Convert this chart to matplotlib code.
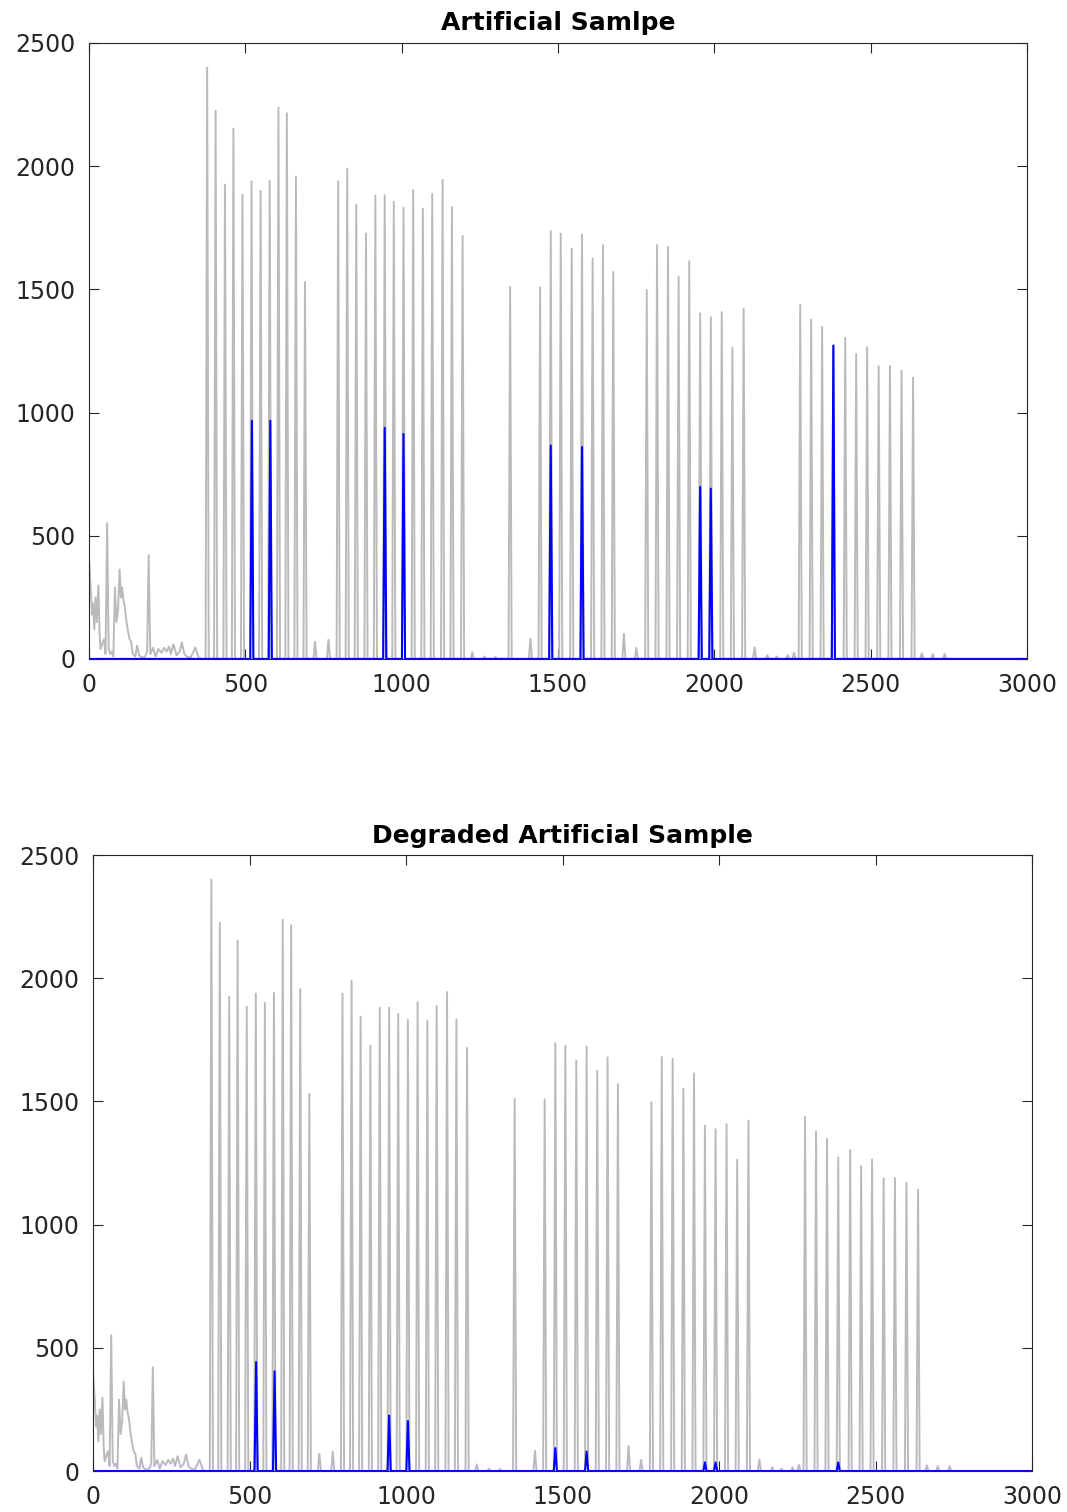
import numpy as np
import matplotlib
matplotlib.use('Agg')
import matplotlib.pyplot as plt

# gray trace: noisy start (polyline read point by point)
noise_x = [0, 5, 10, 13, 17, 21, 25, 30, 34, 37, 42, 48, 53, 58, 63, 68, 73, 78, 83, 88,
           93, 98, 102, 106, 110, 115, 120, 125, 130, 135, 140, 148, 154, 160, 170, 180,
           186, 191, 196, 205, 213, 222, 232, 240, 248, 256, 262, 270, 280, 290, 297,
           305, 312, 325, 340, 351, 358]
noise_y = [404, 300, 180, 225, 120, 250, 150, 298, 100, 40, 60, 80, 20, 551, 40, 20, 30,
           10, 290, 150, 200, 363, 250, 290, 240, 209, 150, 111, 80, 70, 20, 10, 54, 15,
           5, 10, 30, 421, 20, 45, 10, 40, 25, 45, 30, 50, 20, 60, 15, 30, 67, 20, 10, 5,
           46, 5, 0]

# gray trace: peaks (position, height)
peak_x = [378, 405, 435, 462, 491, 520, 549, 578, 606, 633, 662, 691, 723, 766,
          797, 826, 855, 886, 916, 946, 975, 1006, 1037, 1068, 1098, 1131, 1161, 1195,
          1226, 1265, 1300, 1347, 1412, 1443, 1477, 1509, 1544, 1577, 1611, 1644, 1677,
          1711, 1751, 1784, 1817, 1852, 1886, 1920, 1955, 1989, 2024, 2058, 2094, 2129,
          2170, 2200, 2235, 2255, 2275, 2310, 2345, 2381, 2419, 2454, 2489, 2526, 2562,
          2599, 2636, 2664, 2699, 2737]
peak_h = [2400, 2225, 1925, 2152, 1885, 1938, 1900, 1940, 2238, 2215, 1956, 1530, 70, 78,
          1938, 1990, 1844, 1727, 1880, 1881, 1855, 1831, 1903, 1827, 1887, 1944, 1833, 1717,
          27, 10, 8, 1510, 82, 1508, 1736, 1726, 1665, 1723, 1625, 1679, 1570,
          102, 45, 1497, 1680, 1673, 1551, 1614, 1402, 1387, 1408, 1263, 1422, 47,
          15, 10, 15, 25, 1437, 1377, 1348, 1272, 1303, 1237, 1265, 1188, 1189,
          1170, 1142, 23, 20, 20]

# blue trace: selected peaks, original and degraded
blue_x = [521, 580, 946, 1006, 1477, 1577, 1955, 1989, 2381]
blue_h_orig = [967, 967, 938, 913, 866, 860, 698, 691, 1272]
blue_h_degr = [442, 405, 225, 203, 93, 79, 35, 35, 35]


def trace(px, ph, half_w, lead_x=None, lead_y=None):
    xs, ys = [], []
    if lead_x is not None:
        xs += list(lead_x)
        ys += list(lead_y)
    else:
        xs.append(0)
        ys.append(0)
    for p, h in zip(px, ph):
        xs += [p - half_w, p, p + half_w]
        ys += [0, h, 0]
    xs.append(3000)
    ys.append(0)
    return np.array(xs), np.array(ys)


gx, gy = trace(peak_x, peak_h, 5, noise_x, noise_y)
bx1, by1 = trace(blue_x, blue_h_orig, 5)
bx2, by2 = trace(blue_x, blue_h_degr, 5)

plt.rcParams['font.family'] = 'DejaVu Sans'
fig = plt.figure(figsize=(10.67, 15.12), dpi=100)
ax1 = fig.add_axes([0.0834, 0.5642, 0.879, 0.4074])
ax2 = fig.add_axes([0.0872, 0.0271, 0.880, 0.4074])

for ax, by, bx, title in [(ax1, by1, bx1, 'Artificial Samlpe'),
                          (ax2, by2, bx2, 'Degraded Artificial Sample')]:
    ax.plot(gx, gy, color='#bababa', lw=1.4)
    ax.plot(bx, by, color='#0000ff', lw=1.5)
    ax.set_xlim(0, 3000)
    ax.set_ylim(0, 2500)
    ax.set_xticks([0, 500, 1000, 1500, 2000, 2500, 3000])
    ax.set_yticks([0, 500, 1000, 1500, 2000, 2500])
    ax.tick_params(direction='in', length=7, width=0.8, top=True, right=True,
                   labelsize=17, colors='#262626', pad=10)
    for s in ax.spines.values():
        s.set_color('#262626')
        s.set_linewidth(0.8)
    ax.set_title(title, fontsize=18, fontweight='bold', pad=9)

fig.savefig('out.png', dpi=100)
